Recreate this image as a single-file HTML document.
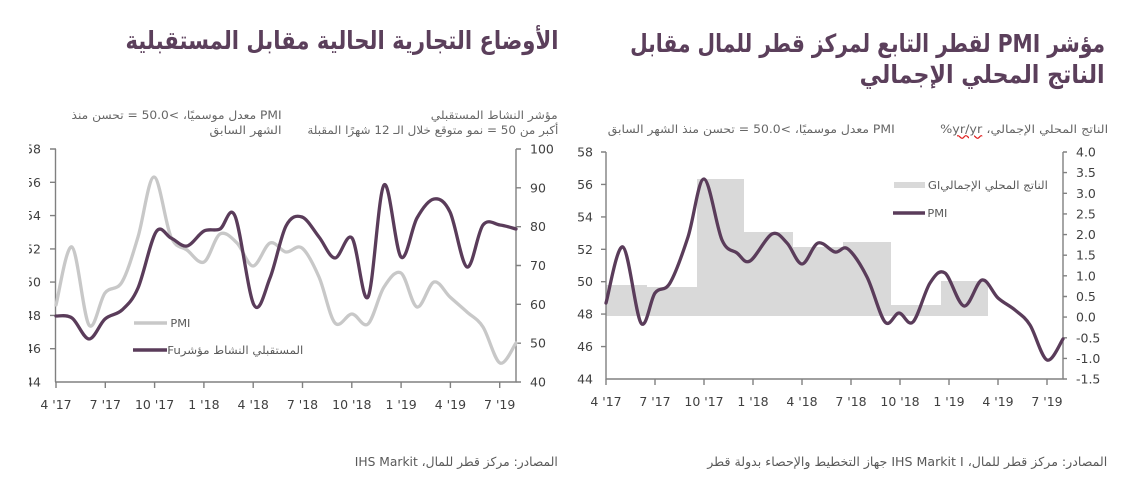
<!DOCTYPE html>
<html><head><meta charset="utf-8">
<style>
html,body{margin:0;padding:0;background:#fff;}
body{width:1135px;height:496px;position:relative;overflow:hidden;font-family:"DejaVu Sans","Liberation Sans",sans-serif;}
.t{position:absolute;white-space:nowrap;line-height:1;transform-origin:right center;}
.ttl{font-weight:bold;color:#5b3f5b;font-size:25px;}
.sub{color:#666;font-size:11.5px;}
.src{color:#595959;font-size:12.5px;}
.lg{color:#595959;font-size:11px;}
svg{position:absolute;left:0;top:0;}
svg text{font-family:"DejaVu Sans","Liberation Sans",sans-serif;font-size:12.5px;fill:#404040;}
.sq{text-decoration:underline wavy #e02020;}
</style></head><body>
<svg width="1135" height="496" viewBox="0 0 1135 496">
  <!-- LEFT CHART -->
  <g stroke="#808080" stroke-width="1.4" fill="none">
    <line x1="55.5" y1="149" x2="55.5" y2="382"/>
    <line x1="516" y1="149" x2="516" y2="382"/>
    <line x1="55" y1="382" x2="516.5" y2="382"/>
    <path d="M50 149H56M50 182.3H56M50 215.6H56M50 248.9H56M50 282.1H56M50 315.4H56M50 348.7H56"/>
    <path d="M516 149H521M516 187.8H521M516 226.7H521M516 265.5H521M516 304.3H521M516 343.2H521M516 382H521"/>
    <path d="M56 382V388M105.3 382V388M154.6 382V388M203.9 382V388M253.2 382V388M302.5 382V388M351.8 382V388M401.1 382V388M450.4 382V388M499.7 382V388"/>
  </g>
  <g text-anchor="end">
    <text x="41" y="153.5">58</text><text x="41" y="186.8">56</text><text x="41" y="220.1">54</text>
    <text x="41" y="253.4">52</text><text x="41" y="286.6">50</text><text x="41" y="319.9">48</text>
    <text x="41" y="353.2">46</text><text x="41" y="386.5">44</text>
  </g>
  <rect x="0" y="130" width="29" height="270" fill="#fff"/>
  <g text-anchor="start">
    <text x="530" y="153.5">100</text><text x="530" y="192.3">90</text><text x="530" y="231.2">80</text>
    <text x="530" y="270">70</text><text x="530" y="308.8">60</text><text x="530" y="347.7">50</text>
    <text x="530" y="386.5">40</text>
  </g>
  <g text-anchor="middle">
    <text x="56" y="409">4 '17</text><text x="105.3" y="409">7 '17</text><text x="154.6" y="409">10 '17</text>
    <text x="203.9" y="409">1 '18</text><text x="253.2" y="409">4 '18</text><text x="302.5" y="409">7 '18</text>
    <text x="351.8" y="409">10 '18</text><text x="401.1" y="409">1 '19</text><text x="450.4" y="409">4 '19</text>
    <text x="499.7" y="409">7 '19</text>
  </g>
  <polyline class="sm" fill="none" stroke="#c8c8c8" stroke-width="3.3" stroke-linejoin="round" stroke-linecap="round"
    points="56,305 72,247 89,325 105,293 122,282 138,237 154,177 171,237 187,250 204,262 220,234 237,243 253,266 270,243 286,252 302,248 319,277 335,323 352,314 368,324 384,287 401,273 417,307 434,282 450,297 467,312 483,327 500,363 516,343"/>
  <polyline class="sm" fill="none" stroke="#5a3c5a" stroke-width="3.3" stroke-linejoin="round" stroke-linecap="round"
    points="56,316 72,318 89,339 105,319 122,310 138,288 156,232 171,238 187,246 204,231 220,229 235,216 254,305 270,278 286,226 302,217 319,237 335,258 352,238 368,297 384,185 401,257 417,218 434,199 450,212 467,267 483,225 500,225 516,229"/>
  <line x1="134" y1="323" x2="167" y2="323" stroke="#c8c8c8" stroke-width="3.5"/>
  <line x1="133" y1="350" x2="167" y2="350" stroke="#5a3c5a" stroke-width="3.5"/>

  <!-- RIGHT CHART -->
  <path d="M606 316V285H647V287H697V179H744V232H793V247H843V242H891V305H941V281H988V316Z" fill="#d9d9d9"/>
  <g stroke="#808080" stroke-width="1.4" fill="none">
    <line x1="606" y1="152" x2="606" y2="379.5"/>
    <line x1="1063" y1="152" x2="1063" y2="379.5"/>
    <line x1="605.5" y1="379" x2="1063.5" y2="379"/>
    <path d="M601 152H606M601 184.4H606M601 216.9H606M601 249.3H606M601 281.7H606M601 314.1H606M601 346.6H606"/>
    <path d="M1063 152H1067M1063 172.6H1067M1063 193.3H1067M1063 213.9H1067M1063 234.6H1067M1063 255.2H1067M1063 275.8H1067M1063 296.5H1067M1063 317.1H1067M1063 337.8H1067M1063 358.4H1067M1063 379H1067"/>
    <path d="M606 379V385M655 379V385M704 379V385M753 379V385M802 379V385M851 379V385M900 379V385M949 379V385M998 379V385M1047 379V385"/>
  </g>
  <g text-anchor="end">
    <text x="593" y="156.5">58</text><text x="593" y="188.9">56</text><text x="593" y="221.4">54</text>
    <text x="593" y="253.8">52</text><text x="593" y="286.2">50</text><text x="593" y="318.6">48</text>
    <text x="593" y="351.1">46</text><text x="593" y="383.5">44</text>
  </g>
  <g text-anchor="start">
    <text x="1076" y="156.5">4.0</text><text x="1076" y="177.1">3.5</text><text x="1076" y="197.8">3.0</text>
    <text x="1076" y="218.4">2.5</text><text x="1076" y="239.1">2.0</text><text x="1076" y="259.7">1.5</text>
    <text x="1076" y="280.3">1.0</text><text x="1076" y="301">0.5</text><text x="1076" y="321.6">0.0</text>
    <text x="1076" y="342.3">-0.5</text><text x="1076" y="362.9">-1.0</text><text x="1076" y="383.5">-1.5</text>
  </g>
  <g text-anchor="middle">
    <text x="606" y="406">4 '17</text><text x="655" y="406">7 '17</text><text x="704" y="406">10 '17</text>
    <text x="753" y="406">1 '18</text><text x="802" y="406">4 '18</text><text x="851" y="406">7 '18</text>
    <text x="900" y="406">10 '18</text><text x="949" y="406">1 '19</text><text x="998" y="406">4 '19</text>
    <text x="1047" y="406">7 '19</text>
  </g>
  <polyline class="sm" fill="none" stroke="#5a3c5a" stroke-width="3.3" stroke-linejoin="round" stroke-linecap="round"
    points="606,303 623,247 641,323 655,293 670,283 688,237 704,179 722,240 737,253 750,261 772,234 787,243 802,264 818,243 835,252 848,249 867,277 885,322 899,313 913,322 930,283 945,273 964,306 982,280 998,298 1015,310 1030,325 1047,360 1063,339"/>
  <rect x="894" y="182" width="31" height="6" fill="#d9d9d9"/>
  <line x1="893" y1="213" x2="925" y2="213" stroke="#5a3c5a" stroke-width="3.5"/>
</svg>

<div id="t1" class="t ttl" dir="rtl" style="right:577px;top:27px;">الأوضاع التجارية الحالية مقابل المستقبلية</div>
<div id="t2" class="t ttl" dir="rtl" style="right:30px;top:29px;">مؤشر PMI لقطر التابع لمركز قطر للمال مقابل</div>
<div id="t3" class="t ttl" dir="rtl" style="right:30px;top:60px;">الناتج المحلي الإجمالي</div>

<div id="s1" class="t sub" dir="rtl" style="right:577px;top:110px;">مؤشر النشاط المستقبلي</div>
<div id="s2" class="t sub" dir="rtl" style="right:577px;top:125px;">أكبر من 50 = نمو متوقع خلال الـ 12 شهرًا المقبلة</div>
<div id="s3" class="t sub" dir="rtl" style="right:853px;top:110px;">PMI معدل موسميًا، &gt;50.0 = تحسن منذ</div>
<div id="s4" class="t sub" dir="rtl" style="right:853px;top:125px;">الشهر السابق</div>
<div id="s5" class="t sub" dir="rtl" style="right:27px;top:124px;">الناتج المحلي الإجمالي، <span class="sq">yr/yr</span>%</div>
<div id="s6" class="t sub" dir="rtl" style="right:240px;top:124px;">PMI معدل موسميًا، &gt;50.0 = تحسن منذ الشهر السابق</div>

<div id="l1" class="t lg" style="left:170px;top:317px;">PMI</div>
<div id="l2" class="t lg" dir="rtl" style="right:832px;top:344px;">المستقبلي النشاط مؤشرFu</div>
<div id="l3" class="t lg" dir="rtl" style="right:87px;top:179px;">الناتج المحلي الإجماليGl</div>
<div id="l4" class="t lg" style="left:927px;top:207px;">PMI</div>

<div id="r1" class="t src" dir="rtl" style="right:577px;top:456px;">المصادر: مركز قطر للمال، IHS Markit</div>
<div id="r2" class="t src" dir="rtl" style="right:28px;top:456px;">المصادر: مركز قطر للمال، IHS Markit I جهاز التخطيط والإحصاء بدولة قطر</div>

<script>
(function(){
  var ns="http://www.w3.org/2000/svg";
  var pls=document.querySelectorAll("polyline.sm");
  for(var k=0;k<pls.length;k++){
    var pl=pls[k];
    var pts=pl.getAttribute("points").trim().split(/\s+/).map(function(s){var a=s.split(",");return[+a[0],+a[1]];});
    var d="M"+pts[0][0]+","+pts[0][1];
    for(var i=0;i<pts.length-1;i++){
      var p0=pts[i-1]||pts[i],p1=pts[i],p2=pts[i+1],p3=pts[i+2]||p2;
      var c1x=p1[0]+(p2[0]-p0[0])/6,c1y=p1[1]+(p2[1]-p0[1])/6;
      var c2x=p2[0]-(p3[0]-p1[0])/6,c2y=p2[1]-(p3[1]-p1[1])/6;
      d+=" C"+c1x.toFixed(2)+","+c1y.toFixed(2)+" "+c2x.toFixed(2)+","+c2y.toFixed(2)+" "+p2[0]+","+p2[1];
    }
    var p=document.createElementNS(ns,"path");
    p.setAttribute("d",d);
    ["fill","stroke","stroke-width","stroke-linejoin","stroke-linecap"].forEach(function(a){p.setAttribute(a,pl.getAttribute(a));});
    pl.parentNode.replaceChild(p,pl);
  }
  var fits=[
    ["t1",125,558,40],["t2",630,1105,43],["t3",860,1105,74],
    ["s1",431,558,116],["s2",307,558,131],["s3",72,282,116],["s4",210,282,131],
    ["s5",940,1108,130],["s6",608,895,130],
    ["l1",170,190,323],["l2",167,303,350],["l3",928,1048,185],["l4",927,947,213],
    ["r1",355,558,462],["r2",707,1107,462]
  ];
  fits.forEach(function(f){
    var el=document.getElementById(f[0]); if(!el)return;
    el.style.left="auto"; el.style.right=(1135-f[2])+"px";
    var r=el.getBoundingClientRect();
    var w=r.width,h=r.height;
    if(w>0){
      var s=(f[2]-f[1])/w;
      el.style.transform="scaleX("+s.toFixed(4)+")";
    }
    el.style.top=(f[3]-h/2)+"px";
  });
})();
</script>
</body></html>
